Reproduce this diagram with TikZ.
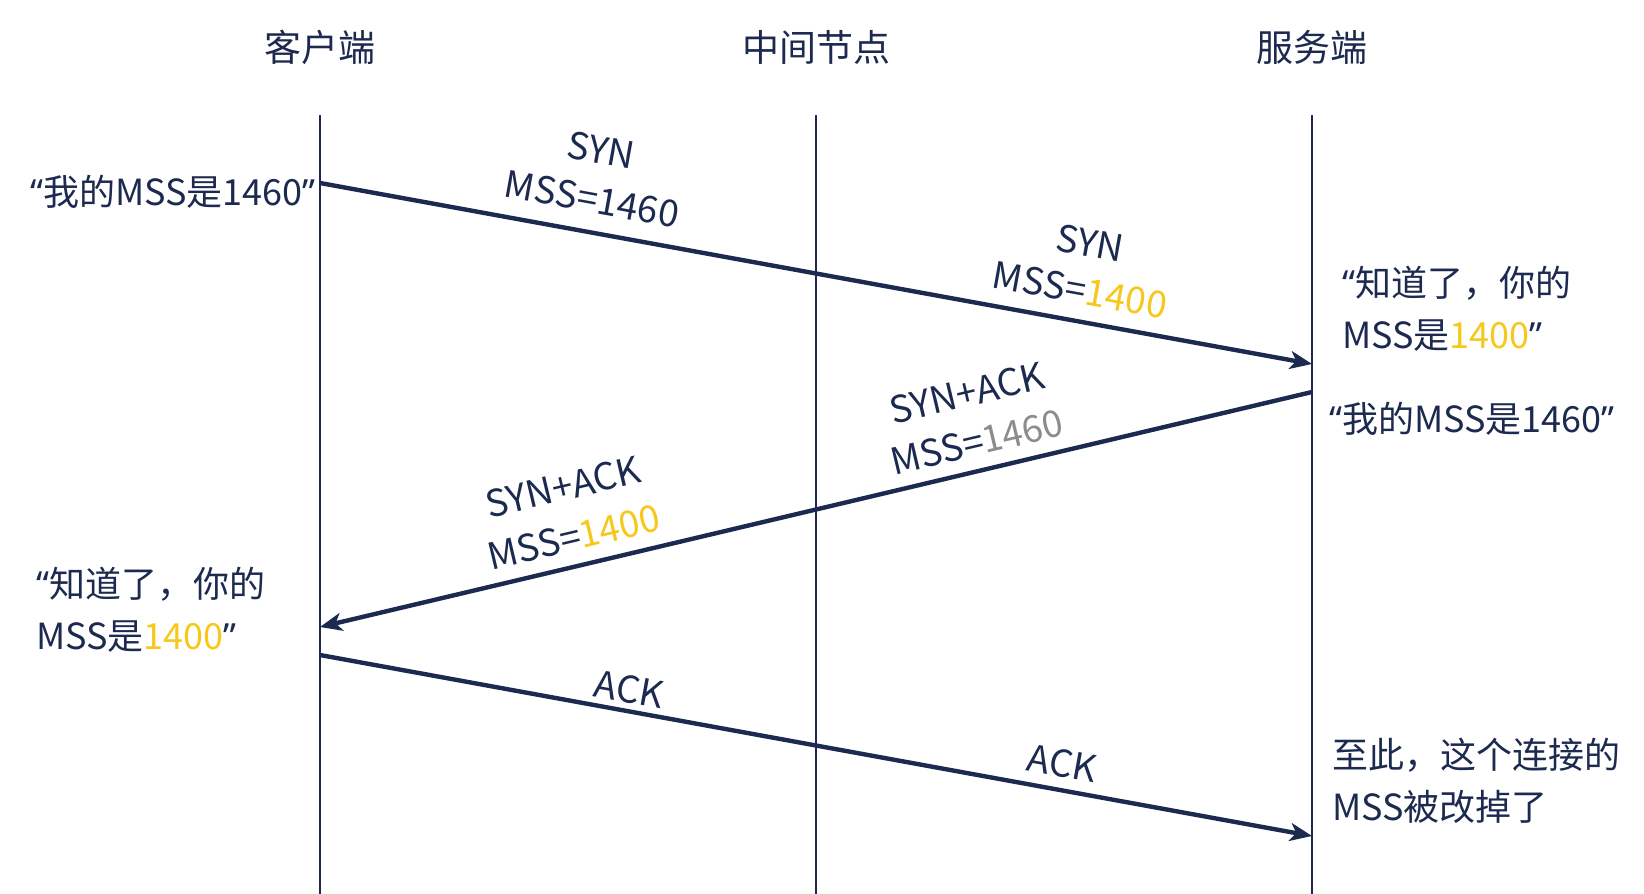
\documentclass[tikz,border=0pt]{standalone}
\usepackage{fontspec}
\setmainfont{Noto Sans CJK SC}
\newfontfamily\qfont{Noto Sans}
\newcommand{\myoq}{{\qfont “}}
\newcommand{\mycq}{{\qfont ”}}
\usetikzlibrary{arrows.meta}
\definecolor{navy}{HTML}{1C2A50}
\definecolor{gold}{HTML}{F7C81C}
\definecolor{greyv}{HTML}{8C8C8C}
\begin{document}
\begin{tikzpicture}[x=1pt,y=-1pt,
  lifeline/.style={draw=navy,line width=2.4pt},
  msg/.style={draw=navy,line width=4.4pt,-{Stealth[length=22pt,width=18pt,inset=6pt]}},
  head/.style={text=navy,font=\fontsize{37}{44}\selectfont,inner sep=0pt},
  lbl/.style={text=navy,font=\fontsize{37}{44}\selectfont,inner sep=0pt},
  side/.style={text=navy,font=\fontsize{36}{52}\selectfont,inner sep=0pt,align=left}]
\useasboundingbox (0,0) rectangle (1644,894);
% headers
\node[head] (hc) at (320,47) {客户端};
\node[head] (hm) at (816,47) {中间节点};
\node[head] (hs) at (1312,47) {服务端};
% lifelines
\coordinate (ct) at (320,115); \coordinate (cb) at (320,894);
\coordinate (mt) at (816,115); \coordinate (mb) at (816,894);
\coordinate (st) at (1312,115); \coordinate (sb) at (1312,894);
\draw[lifeline] (ct) -- (cb);
\draw[lifeline] (mt) -- (mb);
\draw[lifeline] (st) -- (sb);
% message endpoints
\coordinate (a1) at (320,183); \coordinate (b1) at (1312,364);
\coordinate (a2) at (1312,392); \coordinate (b2) at (320,627);
\coordinate (a3) at (320,655); \coordinate (b3) at (1312,836);
\draw[msg] (a1) -- (b1);
\draw[msg] (a2) -- (b2);
\draw[msg] (a3) -- (b3);
% labels on SYN
\node[lbl,rotate=-10.3] (l1a) at (601,150) {SYN};
\node[lbl,rotate=-10.3] (l1b) at (592,199) {MSS=1460};
\node[lbl,rotate=-10.3] (l1c) at (1090,243) {SYN};
\node[lbl,rotate=-10.3] (l1d) at (1080,290) {MSS=\textcolor{gold}{1400}};
% labels on SYN+ACK
\node[lbl,rotate=13.3] (l2a) at (967,393) {SYN+ACK};
\node[lbl,rotate=13.3] (l2b) at (977,442) {MSS=\textcolor{greyv}{1460}};
\node[lbl,rotate=13.3] (l2c) at (563,487) {SYN+ACK};
\node[lbl,rotate=13.3] (l2d) at (574,537) {MSS=\textcolor{gold}{1400}};
% labels on ACK
\node[lbl,rotate=-10.3] (l3a) at (629,689) {ACK};
\node[lbl,rotate=-10.3] (l3b) at (1062,763) {ACK};
% side texts
\node[side,anchor=east] (t1) at (316,192) {\myoq 我的MSS是1460\mycq};
\node[side,anchor=west] (t2) at (1342,309) {\myoq 知道了，你的\\MSS是\textcolor{gold}{1400}\mycq};
\node[side,anchor=west] (t3) at (1329,419) {\myoq 我的MSS是1460\mycq};
\node[side,anchor=west] (t4) at (36,610) {\myoq 知道了，你的\\MSS是\textcolor{gold}{1400}\mycq};
\node[side,anchor=west] (t5) at (1332,781) {至此，这个连接的\\MSS被改掉了};
\end{tikzpicture}
\end{document}
